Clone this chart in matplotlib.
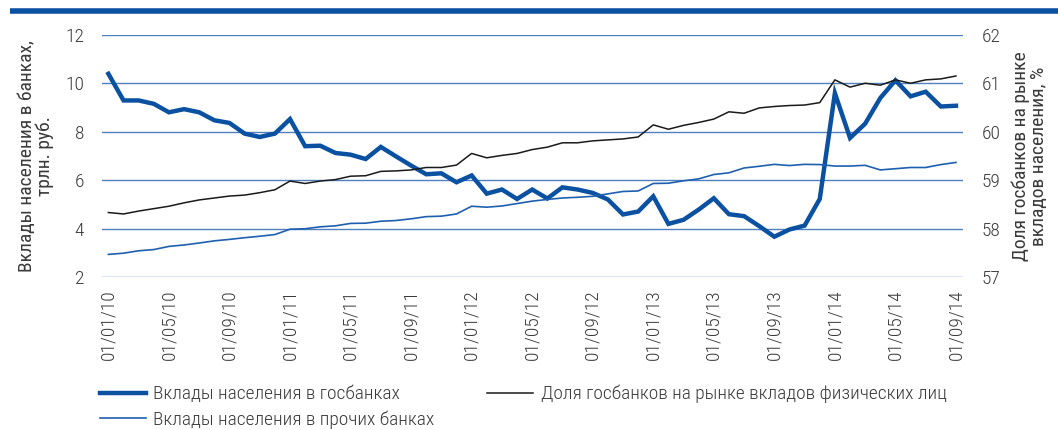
import matplotlib
matplotlib.use('Agg')
import matplotlib.pyplot as plt

plt.rcParams['font.family'] = ['Roboto Condensed', 'DejaVu Sans']
plt.rcParams['font.weight'] = 300

# monthly data, 01/01/10 .. 01/09/14
gos = [10.39, 9.29, 9.29, 9.15, 8.80, 8.93, 8.80, 8.47, 8.36, 7.92,
       7.78, 7.92, 8.52, 7.40, 7.42, 7.12, 7.05, 6.87, 7.37, 6.98,
       6.60, 6.24, 6.28, 5.91, 6.19, 5.44, 5.61, 5.22, 5.61, 5.24,
       5.70, 5.61, 5.47, 5.20, 4.58, 4.70, 5.33, 4.19, 4.36, 4.78,
       5.25, 4.59, 4.51, 4.10, 3.66, 3.96, 4.12, 5.22, 9.59, 7.74,
       8.33, 9.39, 10.12, 9.46, 9.65, 9.04, 9.07]
other = [2.93, 2.98, 3.08, 3.13, 3.26, 3.32, 3.40, 3.49, 3.55, 3.62,
         3.68, 3.75, 3.97, 3.99, 4.07, 4.11, 4.21, 4.22, 4.30, 4.33,
         4.40, 4.49, 4.51, 4.60, 4.92, 4.88, 4.93, 5.03, 5.13, 5.20,
         5.26, 5.29, 5.33, 5.43, 5.53, 5.55, 5.86, 5.87, 5.97, 6.05,
         6.23, 6.30, 6.50, 6.57, 6.65, 6.60, 6.65, 6.64, 6.58, 6.58,
         6.61, 6.42, 6.47, 6.52, 6.52, 6.64, 6.73]
share = [58.33, 58.30, 58.36, 58.41, 58.46, 58.53, 58.59, 58.63, 58.67, 58.69,
         58.74, 58.80, 58.98, 58.93, 58.98, 59.01, 59.08, 59.09, 59.18, 59.19,
         59.21, 59.26, 59.26, 59.31, 59.55, 59.46, 59.51, 59.55, 59.63, 59.68,
         59.77, 59.77, 59.81, 59.83, 59.85, 59.89, 60.14, 60.05, 60.13, 60.19,
         60.26, 60.41, 60.38, 60.49, 60.52, 60.54, 60.55, 60.60, 61.07, 60.92,
         61.00, 60.96, 61.07, 61.00, 61.07, 61.09, 61.15]
tick_labels = ['01/01/10', '01/05/10', '01/09/10', '01/01/11', '01/05/11',
               '01/09/11', '01/01/12', '01/05/12', '01/09/12', '01/01/13',
               '01/05/13', '01/09/13', '01/01/14', '01/05/14', '01/09/14']

blue = '#0b51a1'
txt = '#3a3a3a'
months = list(range(len(gos)))

fig = plt.figure(figsize=(10.58, 4.30), dpi=100)
ax = fig.add_axes([0.096, 0.356, 0.814, 0.563])
ax2 = ax.twinx()

# top bar
fig.add_artist(plt.Line2D([0.009, 1.0], [0.975, 0.975], color=blue, lw=4,
                          solid_capstyle='butt'))

for t in range(2, 13, 2):
    ax.axhline(t, color='#5080bf', lw=1, zorder=0)

l1, = ax.plot(months, gos, color=blue, lw=3.2, label='Вклады населения в госбанках',
              solid_joinstyle='miter')
l2, = ax.plot(months, other, color='#1f5fb0', lw=1.2, label='Вклады населения в прочих банках')
l3, = ax2.plot(months, share, color='#1a1a1a', lw=1.1,
               label='Доля госбанков на рынке вкладов физических лиц')

ax.set_xlim(-0.45, len(gos) - 0.55)
ax.set_ylim(2, 12)
ax2.set_ylim(57, 62)
ax.set_yticks(range(2, 13, 2))
ax2.set_yticks(range(57, 63))
ax.set_xticks(range(0, len(gos), 4))
ax.set_xticklabels(tick_labels, rotation=90)

for a in (ax, ax2):
    for s in a.spines.values():
        s.set_visible(False)
ax.tick_params(axis='y', length=0, labelsize=14, labelcolor=txt, pad=12.5)
ax.tick_params(axis='x', length=0, labelsize=14, labelcolor=txt, pad=9)
ax2.yaxis.set_tick_params(length=0, labelsize=14, labelcolor=txt, pad=13.5)

ax.set_ylabel('Вклады населения в банках,\nтрлн. руб.', fontsize=14, color=txt,
              linespacing=1.0, labelpad=8)
ax2.set_ylabel('Доля госбанков на рынке\nвкладов населения, %', fontsize=14,
               color=txt, linespacing=1.0, labelpad=8, rotation=90)

fig.legend(handles=[l1, l2, l3], ncol=2, loc='upper left',
           bbox_to_anchor=(0.0945, 0.105), frameon=False, fontsize=14,
           handlelength=2.35, handletextpad=0.4, columnspacing=2.7,
           labelcolor=txt, borderaxespad=0, borderpad=0, labelspacing=0.35)

fig.savefig('out.png', dpi=100)
